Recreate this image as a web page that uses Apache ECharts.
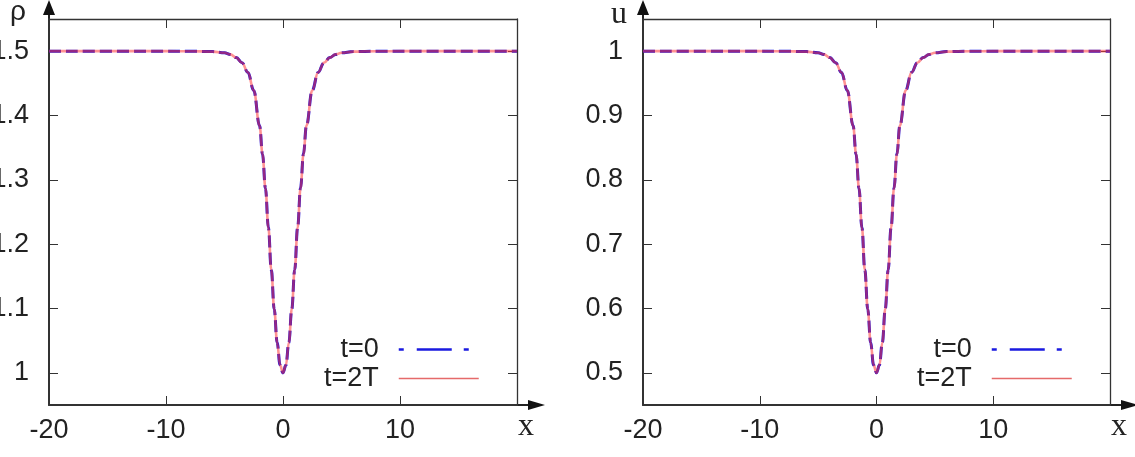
<!DOCTYPE html>
<html>
<head>
<meta charset="utf-8">
<script src="https://cdn.jsdelivr.net/npm/echarts@6/dist/echarts.min.js"></script>
<style>
  html, body { margin: 0; padding: 0; background: #fff; }
  #chart { width: 1135px; height: 457px; }
</style>
</head>
<body>
<div id="chart"></div>
<script>
// x sample points
const xs = [-20, -10, -8, -6, -5, -4.5, -4, -3.5, -3, -2.5, -2, -1.75, -1.5, -1.25, -1, -0.75, -0.5, -0.25, 0,
  0.25, 0.5, 0.75, 1, 1.25, 1.5, 1.75, 2, 2.5, 3, 3.5, 4, 4.5, 5, 6, 8, 10, 20];

// density rho
const rho0 = [1.5, 1.5, 1.4999, 1.4993, 1.4975, 1.495, 1.490, 1.482, 1.467, 1.439, 1.384, 1.340, 1.287, 1.226, 1.160, 1.099, 1.047, 1.012, 1.0,
  1.012, 1.047, 1.099, 1.160, 1.226, 1.287, 1.340, 1.384, 1.439, 1.467, 1.482, 1.490, 1.495, 1.4975, 1.4993, 1.4999, 1.5, 1.5];
const rho2T = [1.5, 1.5, 1.4999, 1.4993, 1.4975, 1.495, 1.490, 1.482, 1.467, 1.439, 1.384, 1.340, 1.287, 1.226, 1.160, 1.099, 1.047, 1.012, 1.0,
  1.012, 1.047, 1.099, 1.160, 1.226, 1.287, 1.340, 1.384, 1.439, 1.467, 1.482, 1.490, 1.495, 1.4975, 1.4993, 1.4999, 1.5, 1.5];

// velocity u
const u0 = [1, 1, 0.9999, 0.9993, 0.9975, 0.995, 0.990, 0.982, 0.967, 0.939, 0.884, 0.840, 0.787, 0.726, 0.660, 0.599, 0.547, 0.512, 0.5,
  0.512, 0.547, 0.599, 0.660, 0.726, 0.787, 0.840, 0.884, 0.939, 0.967, 0.982, 0.990, 0.995, 0.9975, 0.9993, 0.9999, 1, 1];
const u2T = [1, 1, 0.9999, 0.9993, 0.9975, 0.995, 0.990, 0.982, 0.967, 0.939, 0.884, 0.840, 0.787, 0.726, 0.660, 0.599, 0.547, 0.512, 0.5,
  0.512, 0.547, 0.599, 0.660, 0.726, 0.787, 0.840, 0.884, 0.939, 0.967, 0.982, 0.990, 0.995, 0.9975, 0.9993, 0.9999, 1, 1];

// ticks
const xTicks = [-20, -10, 0, 10, 20];
const xTickLabels = [-20, -10, 0, 10];
const rhoTicks = [1, 1.1, 1.2, 1.3, 1.4, 1.5];
const uTicks = [0.5, 0.6, 0.7, 0.8, 0.9, 1];

const zip = (a, b) => a.map((v, i) => [v, b[i]]);

const labelFont = { fontFamily: "Liberation Sans", fontSize: 27, color: "#222" };
const frameColor = "#333";

function xAxes(gi) {
  return [
    {
      gridIndex: gi, type: "value", position: "bottom", min: -20, max: 20, interval: 10,
      axisLine: { onZero: false, lineStyle: { color: frameColor, width: 2 } },
      axisTick: { inside: true, length: 9, customValues: xTicks, lineStyle: { color: frameColor, width: 1 } },
      axisLabel: Object.assign({ customValues: xTickLabels, margin: 12 }, labelFont),
      splitLine: { show: false },
      name: "x", nameLocation: "end", nameGap: 1,
      nameTextStyle: { fontFamily: "Liberation Serif", fontSize: 32, color: "#222", align: "left", verticalAlign: "top", padding: [6, 0, 0, 0] }
    },
    {
      gridIndex: gi, type: "value", position: "top", min: -20, max: 20, interval: 10,
      axisLine: { onZero: false, lineStyle: { color: frameColor, width: 1.3 } },
      axisTick: { inside: true, length: 9, customValues: xTicks, lineStyle: { color: frameColor, width: 1 } },
      axisLabel: { show: false },
      splitLine: { show: false }
    }
  ];
}

function yAxes(gi, ticks, min, max, name, nameFont, nameSize, gap, padRight) {
  return [
    {
      gridIndex: gi, type: "value", position: "left", min: min, max: max,
      axisLine: { show: true, onZero: false, lineStyle: { color: frameColor, width: 2 } },
      axisTick: { show: true, inside: true, length: 9, customValues: ticks, lineStyle: { color: frameColor, width: 1 } },
      axisLabel: Object.assign({ customValues: ticks, margin: 20 }, labelFont),
      splitLine: { show: false },
      name: name, nameLocation: "end", nameGap: gap,
      nameTextStyle: { fontFamily: nameFont, fontSize: nameSize, color: "#222", align: "right", verticalAlign: "middle", padding: [0, padRight, 0, 0] }
    },
    {
      gridIndex: gi, type: "value", position: "right", min: min, max: max,
      axisLine: { show: true, onZero: false, lineStyle: { color: frameColor, width: 1.3 } },
      axisTick: { show: true, inside: true, length: 9, customValues: ticks, lineStyle: { color: frameColor, width: 1 } },
      axisLabel: { show: false },
      splitLine: { show: false }
    }
  ];
}

function lines(xi, yi, d0, d2) {
  return [
    {
      name: "t=0", type: "line", xAxisIndex: xi, yAxisIndex: yi,
      data: zip(xs, d0), smooth: 0.4, smoothMonotone: "x", symbol: "none",
      lineStyle: { color: "#1010e0", width: 3, type: [12, 5] },
      itemStyle: { color: "#1010e0" }
    },
    {
      name: "t=2T", type: "line", xAxisIndex: xi, yAxisIndex: yi,
      data: zip(xs, d2), smooth: 0.4, smoothMonotone: "x", symbol: "none",
      lineStyle: { color: "#ff3a3a", width: 2.6, opacity: 0.55 },
      itemStyle: { color: "#ff3a3a" }
    }
  ];
}

function legend(rightPx) {
  return {
    orient: "vertical", align: "right", right: rightPx, top: 336, padding: 0,
    itemWidth: 80, itemHeight: 14, itemGap: 2,
    textStyle: Object.assign({ padding: [0, 15, 0, 0] }, labelFont),
    data: [
      { name: "t=0", itemStyle: { opacity: 0 }, lineStyle: { color: "#1a1ae0", width: 2.5, opacity: 1, type: [5, 13, 35, 12, 5, 10] } },
      { name: "t=2T", itemStyle: { opacity: 0 }, lineStyle: { color: "#e56a6a", width: 1.5, opacity: 1, type: "solid" } }
    ]
  };
}

let chart = echarts.init(document.getElementById("chart"));
chart.setOption({
  animation: false,
  backgroundColor: "#fff",
  grid: [
    { left: 49, top: 19, width: 468, height: 386, outerBoundsMode: "none", containLabel: false },
    { left: 643, top: 19, width: 467, height: 386, outerBoundsMode: "none", containLabel: false }
  ],
  xAxis: xAxes(0).concat(xAxes(1)),
  yAxis: yAxes(0, rhoTicks, 0.95, 1.55, "ρ", "Liberation Sans", 28, 7, 23)
    .concat(yAxes(1, uTicks, 0.45, 1.05, "u", "Liberation Serif", 32, 4, 16)),
  legend: [legend(655), legend(62)],
  series: lines(0, 0, rho0, rho2T).concat(lines(2, 2, u0, u2T))
});

// arrow heads on the bottom and left axes, placed from the axis scales
function arrows(xi, yi, xmin, xmax, ymin, ymax) {
  const rb = chart.convertToPixel({ xAxisIndex: xi, yAxisIndex: yi }, [xmax, ymin]);
  const lt = chart.convertToPixel({ xAxisIndex: xi, yAxisIndex: yi }, [xmin, ymax]);
  const st = { stroke: "#222", lineWidth: 2 };
  return [
    { type: "line", shape: { x1: rb[0], y1: rb[1], x2: rb[0] + 13, y2: rb[1] }, style: st },
    { type: "polygon", shape: { points: [[rb[0] + 11, rb[1] - 5], [rb[0] + 28, rb[1]], [rb[0] + 11, rb[1] + 5]] }, style: { fill: "#111" } },
    { type: "line", shape: { x1: lt[0], y1: lt[1], x2: lt[0], y2: lt[1] - 6 }, style: st },
    { type: "polygon", shape: { points: [[lt[0] - 6, lt[1] - 4], [lt[0], lt[1] - 19], [lt[0] + 6, lt[1] - 4]] }, style: { fill: "#111" } }
  ];
}

chart.setOption({
  graphic: arrows(0, 0, -20, 20, 0.95, 1.55).concat(arrows(2, 2, -20, 20, 0.45, 1.05))
});

window.addEventListener("resize", function () {
  chart.resize();
});
</script>
</body>
</html>
